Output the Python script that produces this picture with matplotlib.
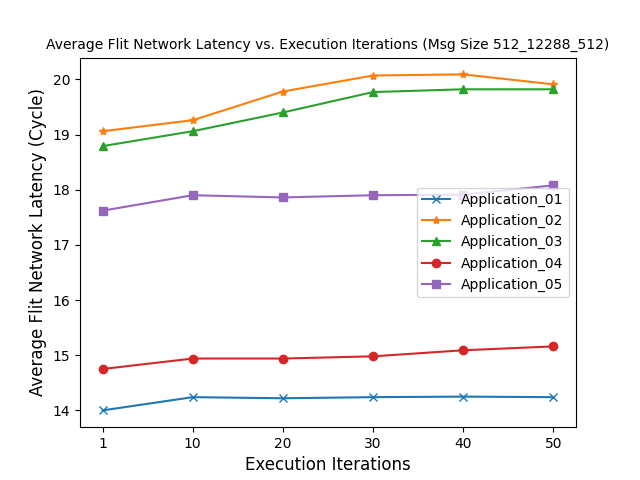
import matplotlib
matplotlib.use("Agg")
import matplotlib.pyplot as plt

iterations = ["1", "10", "20", "30", "40", "50"]

app_01 = [14.00, 14.24, 14.22, 14.24, 14.25, 14.24]
app_02 = [19.06, 19.26, 19.78, 20.07, 20.09, 19.91]
app_03 = [18.79, 19.06, 19.40, 19.77, 19.82, 19.82]
app_04 = [14.75, 14.94, 14.94, 14.98, 15.09, 15.16]
app_05 = [17.62, 17.90, 17.86, 17.90, 17.91, 18.08]

series = [
    ("Application_01", app_01, "x"),
    ("Application_02", app_02, "*"),
    ("Application_03", app_03, "^"),
    ("Application_04", app_04, "o"),
    ("Application_05", app_05, "s"),
]

plt.figure(figsize=(6.4, 4.8), dpi=100)

x = range(len(iterations))
for name, values, marker in series:
    plt.plot(x, values, marker=marker, label=name)

plt.xticks(x, iterations)
plt.xlabel("Execution Iterations", fontsize=12)
plt.ylabel("Average Flit Network Latency (Cycle)", fontsize=12)
plt.title("Average Flit Network Latency vs. Execution Iterations (Msg Size 512_12288_512)", fontsize=10)
plt.legend(loc="center right")

plt.savefig("out.png", dpi=100)
plt.close()
